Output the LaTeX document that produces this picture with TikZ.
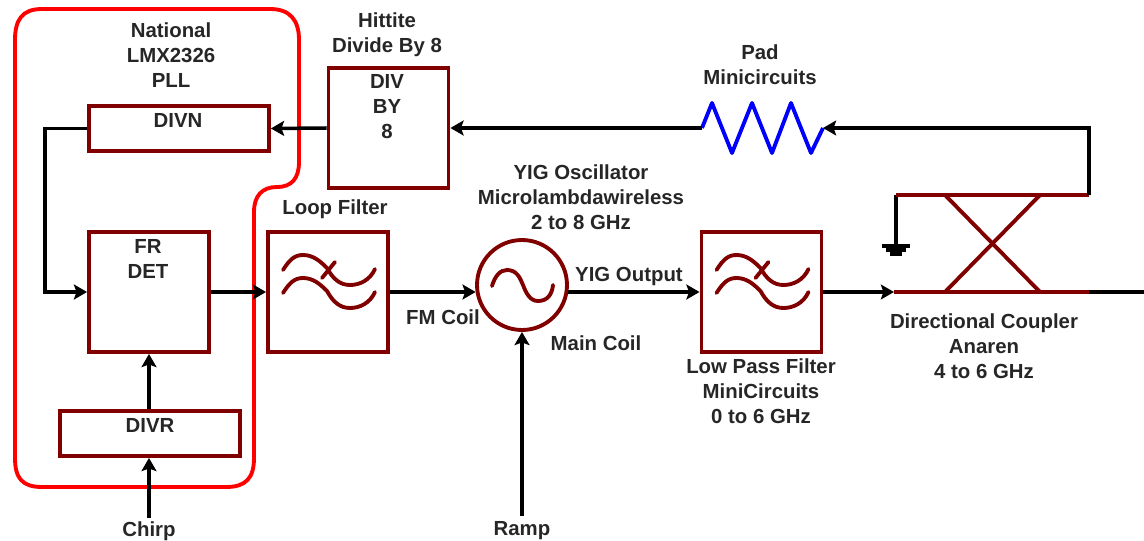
\documentclass[tikz,border=0pt]{standalone}
\usepackage{fontspec}
\setmainfont{Liberation Sans}
\usetikzlibrary{arrows.meta}
\definecolor{boxred}{RGB}{128,0,0}
\tikzset{
  txt/.style={font=\fontsize{11.6}{14.2}\selectfont\bfseries,text=black!85,align=center,inner sep=0pt},
  blockbox/.style={draw=boxred,line width=2.2pt,inner sep=0pt,minimum width=#1,minimum height=2.4cm},
  wire/.style={line width=2pt},
  redwire/.style={line width=2.2pt,boxred},
  filtersym/.pic={
    \draw[-,redwire,line cap=round] (-45,-22) .. controls (-38,-33) and (-33,-37) .. (-25,-37) .. controls (-15,-37) and (-8,-31) .. (-1,-24) .. controls (5,-13) and (12,-7) .. (22,-7) .. controls (32,-7) and (42,-12) .. (47,-23);
    \draw[-,redwire,line cap=round] (-45,1) .. controls (-38,-10) and (-33,-14) .. (-25,-14) .. controls (-15,-14) and (-8,-8) .. (-1,-1) .. controls (5,10) and (12,16) .. (22,16) .. controls (32,16) and (42,11) .. (47,0);
    \draw[-,redwire,line cap=round] (7,-30) -- (-6,-14);
  }
}
\begin{document}
\begin{tikzpicture}[x=0.02cm,y=-0.02cm,->,>={Stealth[length=7.5pt,width=8.5pt,inset=1.5pt]}]
    \useasboundingbox (0,0) rectangle (1144,541);

    % PLL outline
    \draw[-,line width=2.2pt,red] (15,40) .. controls (15,20) and (22,9) .. (42,9) -- (270,9)
    .. controls (290,9) and (299,20) .. (299,40) -- (299,162)
    .. controls (299,178) and (292,187) .. (277,187) .. controls (262,187) and (254,196) .. (254,212)
    -- (254,458) .. controls (254,478) and (246,487) .. (226,487) -- (42,487)
    .. controls (22,487) and (15,478) .. (15,458) -- cycle;

    % blocks
    \node[blockbox=3.6cm,minimum height=0.9cm](divn) at (179,128.5){};
    \node[blockbox=2.4cm](divby) at (388.5,128){};
    \node[blockbox=2.4cm](frdet) at (149,292){};
    \node[blockbox=3.6cm,minimum height=0.9cm](divr) at (150,433.5){};
    \node[blockbox=2.4cm](loopf) at (328,292){};
    \node[blockbox=2.4cm](lpf) at (761.5,292){};
    \node[circle,draw=boxred,line width=2.2pt,inner sep=0pt,minimum size=1.8cm](osc) at (522,285){};

    \pic at (loopf.center) {filtersym};
    \pic at (lpf.center) {filtersym};
    \draw[-,redwire,line cap=round] (492,286) .. controls (495,276) and (500,270) .. (507,270)
    .. controls (517,270) and (520,278) .. (523,285) .. controls (526,293) and (530,301) .. (538,301)
    .. controls (547,301) and (552,295) .. (553,285);

    % pad
    \coordinate (padl) at (702,128);
    \coordinate (padr) at (823,128);
    \draw[-,line width=2.2pt,blue,line join=round] (padl) -- (712,103) -- (732,153) -- (752,103) -- (772,153) -- (791,103) -- (811,153) -- (padr);

    % coupler
    \coordinate (cplgnd) at (896,195);
    \coordinate (cpltop) at (1089,195);
    \coordinate (cplin) at (894,292);
    \coordinate (cplout) at (1089,292);
    \coordinate (outend) at (1144,292);
    \coordinate (gnd) at (896,246);
    \coordinate (topbend) at (1089,128);
    \coordinate (xa) at (945,195);
    \coordinate (xb) at (1040,195);
    \coordinate (xc) at (945,292);
    \coordinate (xd) at (1040,292);
    \draw[-,wire] (cplgnd) -- (gnd);
    \draw[-,wire] (882,246) -- (910,246);
    \draw[-,wire] (886,250) -- (906,250);
    \draw[-,wire] (890,254) -- (902,254);
    \path[-,redwire] (cplgnd) edge (cpltop)
    (cplin) edge (cplout)
    (xa) edge (xd)
    (xb) edge (xc);

    % connectors
    \coordinate (chirp) at (149,518);
    \coordinate (ramp) at (522,516);
    \coordinate (loopbend) at (45,128.5);
    \coordinate (oscin) at (osc.189 |- loopf.east);
    \coordinate (oscout) at (osc.351 |- lpf.west);
    \path[wire] (padl) edge (divby.east)
    (divby.west) edge (divn.east)
    (frdet.east) edge (loopf.west)
    (loopf.east) edge (oscin)
    (oscout) edge (lpf.west)
    (lpf.east) edge (cplin)
    (divr.north -| frdet.south) edge (frdet.south)
    (chirp) edge (chirp |- divr.south)
    (ramp) edge (osc.south)
    (cplout) edge[-] (outend);
    \draw[wire] (cpltop) -- (topbend) -- (padr);
    \draw[wire] (divn.west) -- (loopbend) -- (loopbend |- frdet.west) -- (frdet.west);

    % labels
    \node[txt](pllname) at (171,55){National\\LMX2326\\PLL};
    \node[txt](hmcname) at (387,35){Hittite\\Divide By 8};
    \node[txt](divtxt) at (387,107){DIV\\BY\\8};
    \node[txt](divntxt) at (178,120){DIVN};
    \node[txt](frtxt) at (148,259){FR\\DET};
    \node[txt](divrtxt) at (150,425){DIVR};
    \node[txt](looptxt) at (335,209){Loop Filter};
    \node[txt](osctxt) at (581,197){YIG Oscillator\\Microlambdawireless\\2 to 8 GHz};
    \node[txt](yigout) at (629,276){YIG Output};
    \node[txt](fmcoil) at (443,317){FM Coil};
    \node[txt](maincoil) at (596,343){Main Coil};
    \node[txt](lpftxt) at (761,391){Low Pass Filter\\MiniCircuits\\0 to 6 GHz};
    \node[txt](cpltxt) at (984,346){Directional Coupler\\Anaren\\4 to 6 GHz};
    \node[txt](padtxt) at (760,65){Pad\\Minicircuits};
    \node[txt](chirptxt) at (149,531){Chirp};
    \node[txt](ramptxt) at (522,531){Ramp};
\end{tikzpicture}
\end{document}
